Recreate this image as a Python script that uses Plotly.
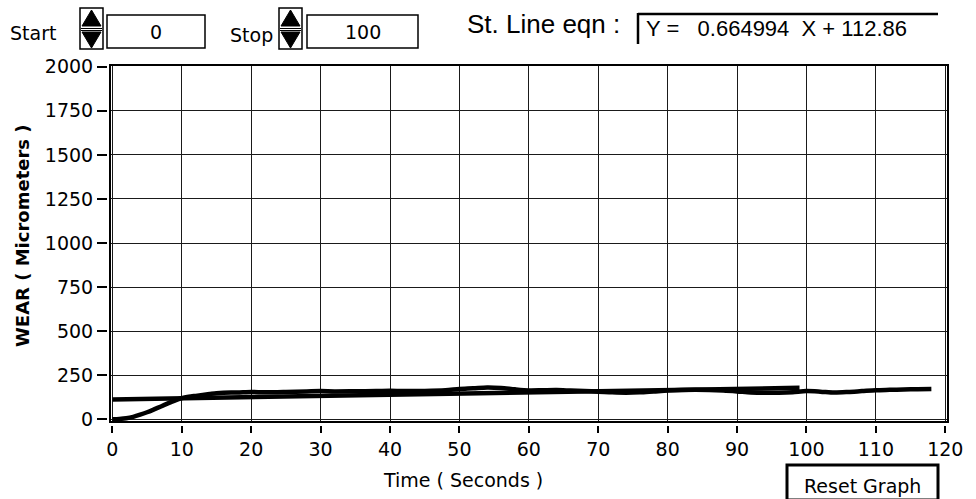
import plotly.graph_objects as go

# ---------------- data ----------------
time_s = [0, 1, 2, 3, 4, 5, 6, 7, 8, 9, 10, 11, 12, 13, 14, 15, 16, 18, 20, 22, 25, 28, 30,
          32, 35, 38, 40, 42, 45, 48, 50, 52, 54, 56, 58, 60, 62, 64, 66, 68, 70, 72, 74,
          76, 78, 80, 82, 84, 86, 88, 90, 92, 94, 96, 98, 100, 102, 104, 106, 108, 110,
          112, 114, 116, 118]
wear_um = [0, 2, 6, 14, 26, 40, 56, 73, 90, 106, 120, 128, 133, 138, 143, 148, 151, 152,
           155, 153, 155, 158, 160, 158, 159, 160, 162, 160, 161, 165, 172, 176, 181, 178,
           170, 164, 165, 166, 163, 160, 157, 153, 151, 153, 158, 163, 166, 167, 166, 163,
           158, 152, 150, 151, 154, 160, 157, 152, 155, 160, 165, 167, 169, 171, 172]

fit_x = [0, 99]
fit_y = [112.86, 178.69]

x_ticks = [0, 10, 20, 30, 40, 50, 60, 70, 80, 90, 100, 110, 120]
y_ticks = [0, 250, 500, 750, 1000, 1250, 1500, 1750, 2000]

start_value = "0"
stop_value = "100"
eqn_text = "Y =   0.664994  X + 112.86"

# ---------------- geometry helpers ----------------
W, H = 976, 499
L, R, T, B = 107, 947, 66, 425  # paper region in pixels


def px(x):
    return (x - L) / (R - L)


def py(y):
    return (B - y) / (B - T)


FONT = "DejaVu Sans"
fig = go.Figure()

fig.add_trace(go.Scatter(x=fit_x, y=fit_y, mode="lines",
                         line=dict(color="black", width=4.5), showlegend=False,
                         hoverinfo="skip"))
fig.add_trace(go.Scatter(x=time_s, y=wear_um, mode="lines",
                         line=dict(color="black", width=4.5, shape="spline", smoothing=0.8),
                         showlegend=False, hoverinfo="skip"))
# carrier for the detached tick axes
fig.add_trace(go.Scatter(x=[None], y=[None], xaxis="x2", yaxis="y2", mode="lines",
                         showlegend=False, hoverinfo="skip"))

xr = [-0.2, 120.25]
yr = [-9.6, 2004]
xdom = [px(111), 1]
ydom = [py(421), 1]

fig.update_layout(
    width=W, height=H,
    margin=dict(l=L, r=W - R, t=T, b=H - B, pad=0),
    paper_bgcolor="white", plot_bgcolor="white",
    font=dict(family=FONT, size=19, color="black"),
    xaxis=dict(domain=xdom, range=xr, anchor="y", showline=True, mirror=True,
               linecolor="black", linewidth=2, showgrid=True, gridcolor="#1a1a1a",
               gridwidth=1, tickvals=x_ticks, ticks="", showticklabels=False,
               zeroline=False),
    yaxis=dict(domain=ydom, range=yr, anchor="x", showline=True, mirror=True,
               linecolor="black", linewidth=2, showgrid=True, gridcolor="#1a1a1a",
               gridwidth=1, tickvals=y_ticks, ticks="", showticklabels=False,
               zeroline=False),
    xaxis2=dict(overlaying="x", anchor="free", position=0, domain=xdom, range=xr,
                tickvals=x_ticks, ticktext=[str(v) for v in x_ticks], ticks="outside",
                ticklen=7, tickwidth=2, tickcolor="black", showline=False,
                showgrid=False, zeroline=False,
                tickfont=dict(family=FONT, size=19, color="black")),
    yaxis2=dict(overlaying="y", anchor="free", position=0, side="left", domain=ydom,
                range=yr, tickvals=y_ticks, ticktext=[str(v) for v in y_ticks],
                ticks="outside", ticklen=10, tickwidth=2, tickcolor="black",
                showline=False, showgrid=False, zeroline=False,
                tickfont=dict(family=FONT, size=19, color="black")),
)

annotations = [
    dict(text="Time ( Seconds )", x=px(463), y=py(480), font=dict(family=FONT, size=19)),
    dict(text="<b>WEAR ( Micrometers )</b>", x=px(23), y=py(236), textangle=-90,
         font=dict(family=FONT, size=18)),
    dict(text="Start", x=px(33), y=py(33), font=dict(family=FONT, size=19)),
    dict(text="Stop", x=px(251), y=py(35), font=dict(family=FONT, size=19)),
    dict(text=start_value, x=px(156), y=py(32), font=dict(family=FONT, size=19)),
    dict(text=stop_value, x=px(363), y=py(32), font=dict(family=FONT, size=19)),
    dict(text="St. Line eqn :", x=px(543), y=py(24),
         font=dict(family="Liberation Sans", size=26)),
    dict(text=eqn_text, x=px(776), y=py(28),
         font=dict(family="Liberation Sans", size=22)),
    dict(text="Reset Graph", x=px(862), y=py(486), font=dict(family=FONT, size=19)),
]
for a in annotations:
    a.update(xref="paper", yref="paper", showarrow=False, xanchor="center",
             yanchor="middle")
fig.update_layout(annotations=annotations)

shapes = []


def rect(x0, y0, x1, y1, w=1.5, fill=None):
    shapes.append(dict(type="rect", xref="paper", yref="paper",
                       x0=px(x0), x1=px(x1), y0=py(y0), y1=py(y1),
                       line=dict(color="black", width=w),
                       fillcolor=fill if fill else "rgba(0,0,0,0)"))


def line(x0, y0, x1, y1, w=1.5):
    shapes.append(dict(type="line", xref="paper", yref="paper",
                       x0=px(x0), x1=px(x1), y0=py(y0), y1=py(y1),
                       line=dict(color="black", width=w)))


def tri(pts):
    p = "M " + " L ".join(f"{px(a)},{py(b)}" for a, b in pts) + " Z"
    shapes.append(dict(type="path", xref="paper", yref="paper", path=p,
                       fillcolor="black", line=dict(color="black", width=1)))


def spinner(x0):
    rect(x0, 8, x0 + 23, 49, w=1.5)
    tri([(x0 + 2, 26), (x0 + 21, 26), (x0 + 11.5, 10)])
    line(x0 + 1, 28.5, x0 + 22, 28.5, w=1)
    line(x0 + 1, 30.5, x0 + 22, 30.5, w=1)
    tri([(x0 + 2, 32), (x0 + 21, 32), (x0 + 11.5, 48)])


spinner(80)
spinner(279)
rect(107, 15, 205, 48, w=1.5)
rect(307, 15, 418, 48, w=1.5)
# equation box (sunken style: dark top/left edges)
line(638, 14, 938, 14, w=2.5)
line(638, 13, 638, 44, w=2.5)
# Reset Graph button
rect(787, 465, 938, 500, w=3)

fig.update_layout(shapes=shapes)

fig.write_html("out.html",
               config={"displayModeBar": False},
               post_script="document.body.style.margin='0px';"
                           "document.body.style.overflow='hidden';")
